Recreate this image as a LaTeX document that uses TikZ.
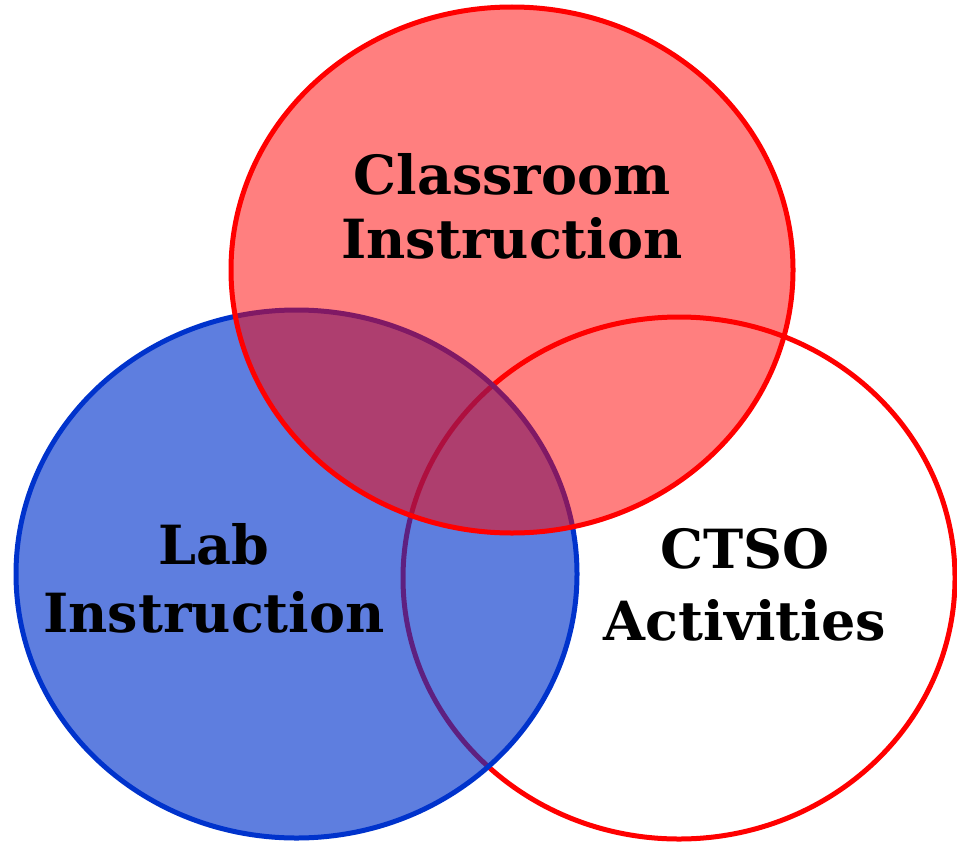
\documentclass[tikz,border=0pt]{standalone}
\usepackage{fontspec}
\setmainfont{DejaVu Serif}
\definecolor{vred}{RGB}{255,0,0}
\definecolor{vblue}{RGB}{0,51,204}
\begin{document}
\begin{tikzpicture}[x=1pt,y=-1pt,
  ring/.style={line width=5pt},
  lbl/.style={font=\fontsize{54}{#1}\selectfont\bfseries, align=center, anchor=base, inner sep=0pt}]
\useasboundingbox (0,0) rectangle (957,843);
% right ellipse (white)
\draw[ring, draw=vred, fill=white] (679,578) ellipse [x radius=276, y radius=261];
% left ellipse (blue)
\draw[ring, draw=vblue, fill=vblue, fill opacity=0.63] (296.5,574) ellipse [x radius=280.5, y radius=264];
% top ellipse (red)
\draw[ring, draw=vred, fill=vred, fill opacity=0.5] (512,270) ellipse [x radius=281, y radius=263];
\node[lbl=64] (classroom) at (512,258) {Classroom\\Instruction};
\node[lbl=68] (lab) at (214,632) {Lab\\Instruction};
\node[lbl=72] (ctso) at (745,640) {CTSO\\Activities};
\end{tikzpicture}
\end{document}
